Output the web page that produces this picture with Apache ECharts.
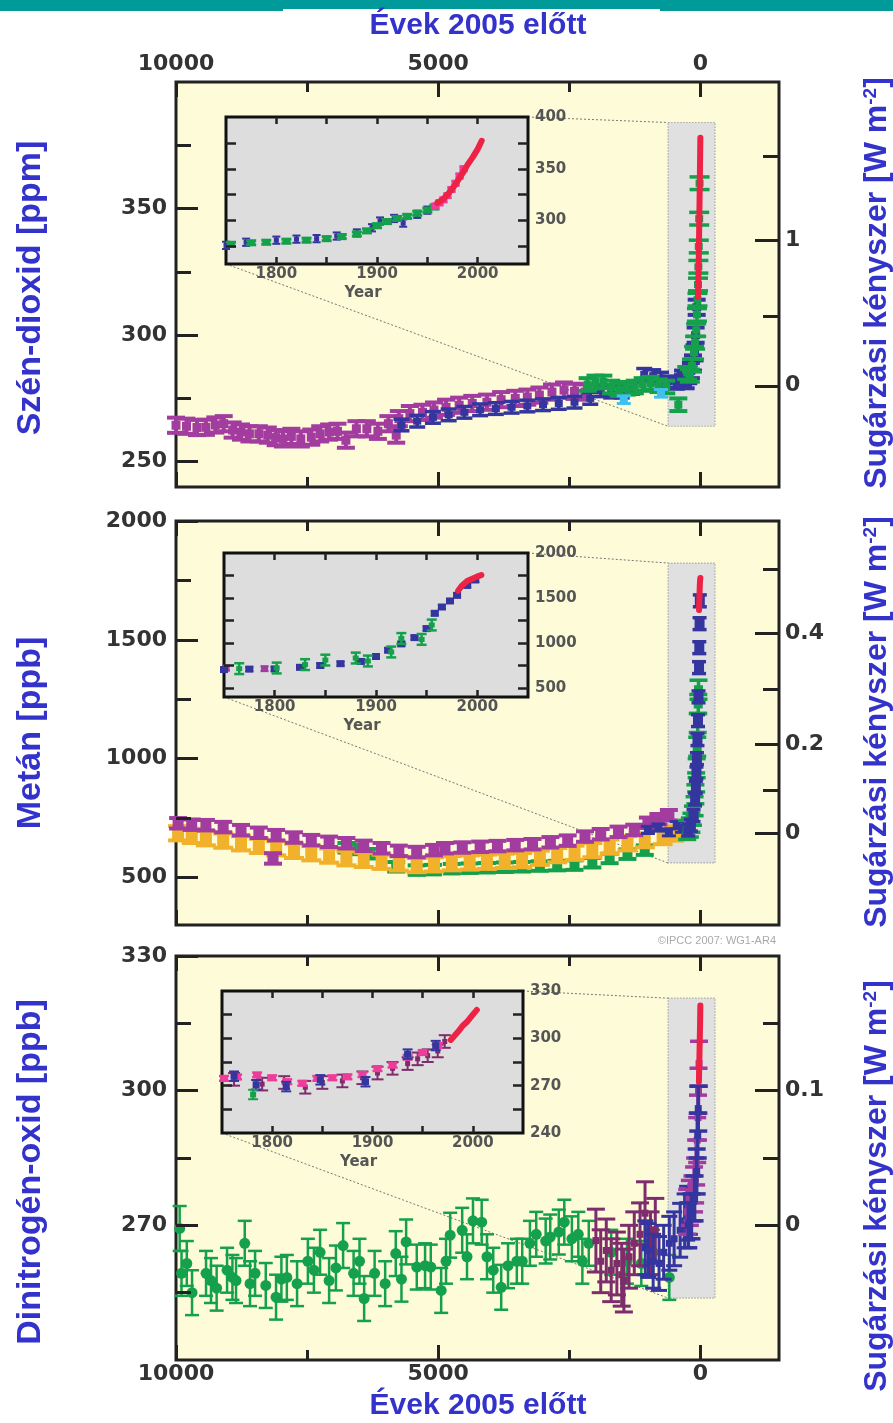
<!DOCTYPE html>
<html><head><meta charset="utf-8">
<script src="https://cdn.jsdelivr.net/npm/echarts@6/dist/echarts.min.js"></script>
<style>html,body{margin:0;padding:0;background:#fff}#c{width:893px;height:1423px}</style>
</head><body><div id="c"></div><script>
// ---------- tick values / labels ----------
const yearMajorTicks = [10000, 5000, 0];
const yearMinorTicks = [7500, 2500];
const co2LeftMajor = [250, 300, 350];
const co2LeftMinor = [275, 325, 375];
const co2ForcingPos = [280, 337.6];
const co2ForcingLabels = ['0', '1'];
const co2ForcingMinor = [307.6, 370.6];
const ch4LeftMajor = [500, 1000, 1500, 2000];
const ch4LeftMinor = [750, 1250, 1750];
const ch4ForcingPos = [686, 1060, 1526];
const ch4ForcingLabels = ['0', '0.2', '0.4'];
const ch4ForcingMinor = [867, 1291, 1799];
const n2oLeftMajor = [270, 300, 330];
const n2oLeftMinor = [255, 285, 315];
const n2oForcingPos = [270, 300];
const n2oForcingLabels = ['0', '0.1'];
const n2oForcingMinor = [285, 315];
const insetYearTicks = [1800, 1850, 1900, 1950, 2000];
const insetYearLabels = [1800, 1900, 2000];
const co2InsetTicks = [275, 300, 325, 350, 375];
const co2InsetLabels = [300, 350, 400];
const ch4InsetTicks = [500, 750, 1000, 1250, 1500, 1750];
const ch4InsetLabels = [500, 1000, 1500, 2000];
const n2oInsetTicks = [255, 270, 285, 300, 315];
const n2oInsetLabels = [240, 270, 300, 330];
// zoom boxes [yearLeft, top, yearRight, bottom]
const co2ZoomBox = [615, 384, -280, 264];
const ch4ZoomBox = [615, 1823, -280, 561];
const n2oZoomBox = [615, 320.6, -280, 253.8];

// ---------- CO2 (years before 2005, ppm) ----------
const co2MagYears = [10000, 9800, 9600, 9430, 9250, 9090, 8920, 8760, 8600, 8420, 8250, 8100, 7960, 7800, 7620, 7420, 7250, 7080, 6920, 6760, 6560, 6360, 6150, 5950, 5800, 5750, 5540, 5300, 5080, 4850, 4600, 4350, 4070, 3800, 3530, 3300, 3070, 2830, 2600, 2400, 2200];
const co2MagPpm = [264.4, 264, 263.5, 263.6, 264.5, 265, 262.5, 261.7, 261, 261, 260.5, 259.5, 259, 260, 259, 259.7, 261, 261.7, 262, 258.5, 263, 263, 262, 265, 260.5, 267, 269, 269.5, 270.4, 271.5, 272.3, 273, 273.5, 274.5, 275, 275.5, 276.3, 277.5, 278.3, 277.8, 277.5];
const co2BlueYears = [5700, 5400, 5100, 4800, 4500, 4200, 3900, 3600, 3300, 3000, 2700, 2400, 2100, 1900, 1700, 1500, 1300, 1070, 900, 750, 600, 450, 350];
const co2BluePpm = [264.5, 266, 267.5, 268.5, 269.5, 270.5, 271, 271.5, 272, 272.5, 273, 273.5, 275, 278, 277.5, 277.5, 279, 284.5, 284, 283, 281.5, 281, 282];
const co2GreenYears = [2150, 2000, 1850, 1700, 1550, 1400, 1250, 1100, 950, 800, 650, 420];
const co2GreenPpm = [280.5, 281.5, 281.5, 279.5, 278.5, 279, 279.5, 280.5, 281, 280, 279.5, 272.5];
const co2CyanYears = [1460, 750];
const co2CyanPpm = [274.5, 277];
const co2SpikeBlueYears = [330, 280, 230, 180, 140, 110, 90, 70];
const co2SpikeBluePpm = [283, 282, 284, 286, 289, 293, 300, 311];
const co2SpikeGreenYears = [250, 200, 160, 120, 100, 80, 65, 55, 45, 38, 30, 22, 15];
const co2SpikeGreenPpm = [285, 284, 288, 293, 297, 302, 308, 314, 320, 327, 335, 346, 360];
const co2RedYears = [47, 40, 30, 20, 10, 0];
const co2RedPpm = [315, 319.5, 330, 345.5, 361, 378];
// CO2 inset (year AD, ppm)
const co2InGreenYears = [1755, 1775, 1790, 1810, 1830, 1850, 1865, 1880, 1890, 1900, 1910, 1920, 1930, 1940, 1950, 1957];
const co2InGreenPpm = [277, 278.5, 279, 280, 281, 282.5, 284.5, 287, 290, 295, 299, 302, 304, 307, 310, 313];
const co2InBlueYears = [1750, 1770, 1800, 1820, 1840, 1860, 1880, 1895, 1903, 1917, 1926, 1940, 1950];
const co2InBluePpm = [276, 279, 281, 282, 282.5, 285, 288, 293, 299.5, 302, 297.5, 306, 310];
const co2InPinkYears = [1958, 1962, 1966, 1970, 1974, 1978, 1982, 1986];
const co2InPinkPpm = [314, 317, 320, 324, 330, 336, 343, 350];
const co2InRedYears = [1960, 1965, 1970, 1975, 1980, 1985, 1990, 1995, 2000, 2004];
const co2InRedPpm = [317, 320, 325, 331, 338, 345.5, 354, 361, 369, 377];

// ---------- CH4 (years before 2005, ppb) ----------
const ch4MagYears = [9960, 9700, 9430, 9100, 8760, 8420, 8150, 8090, 7750, 7420, 7080, 6750, 6420, 6080, 5750, 5410, 5080, 4870, 4540, 4200, 3870, 3530, 3200, 2860, 2530, 2200, 1900, 1560, 1260, 1000, 800, 600];
const ch4MagPpb = [728, 722, 720, 712, 699, 688, 580, 678, 668, 657, 650, 644, 633, 623, 612, 607, 615, 623, 626, 629, 632, 636, 640, 648, 655, 672, 682, 692, 700, 730, 745, 762];
const ch4OrangeYears = [9960, 9700, 9430, 9100, 8760, 8420, 8090, 7750, 7420, 7080, 6750, 6420, 6080, 5750, 5410, 5080, 4740, 4400, 4070, 3730, 3400, 3060, 2730, 2400, 2060, 1730, 1390, 1060, 720, 500, 320];
const ch4OrangePpb = [686, 675, 665, 655, 644, 633, 623, 612, 602, 592, 581, 574, 566, 559, 552, 555, 560, 563, 566, 570, 573, 583, 594, 604, 615, 630, 644, 657, 670, 685, 699];
const ch4GreenYears = [6750, 6500, 6300, 5800, 5410, 5100, 4740, 4400, 4070, 3730, 3400, 3060, 2730, 2400, 2060, 1730, 1390, 1060];
const ch4GreenPpb = [625, 618, 600, 545, 531, 533, 537, 539, 541, 543, 545, 548, 550, 552, 562, 580, 598, 615];
const ch4BlueYears = [1000, 800, 600, 450, 350];
const ch4BluePpb = [700, 710, 690, 720, 705];
const ch4SpikeGreenYears = [250, 200, 170, 140, 110, 95, 80, 70, 60, 50, 40, 35];
const ch4SpikeGreenPpb = [700, 710, 730, 760, 800, 850, 900, 960, 1050, 1150, 1230, 1290];
const ch4SpikeBlueYears = [230, 180, 130, 100, 85, 75, 65, 55, 45, 35, 25, 20, 15, 10];
const ch4SpikeBluePpb = [700, 720, 760, 830, 880, 940, 1000, 1080, 1160, 1260, 1383, 1467, 1568, 1664];
const ch4RedYears = [25, 20, 15, 10, 5, 0];
const ch4RedPpb = [1625, 1665, 1700, 1730, 1750, 1760];
// CH4 inset
const ch4InBlueYears = [1750, 1775, 1800, 1825, 1845, 1865, 1885, 1900, 1912, 1925, 1938, 1950, 1958, 1965, 1973, 1980, 1990, 1998];
const ch4InBluePpb = [705, 710, 712, 730, 750, 770, 795, 850, 920, 990, 1060, 1160, 1330, 1400, 1467, 1530, 1640, 1700];
const ch4InGreenYears = [1765, 1802, 1830, 1850, 1880, 1892, 1915, 1925, 1945, 1955];
const ch4InGreenPpb = [715, 722, 760, 810, 833, 800, 900, 1050, 1040, 1200];
const ch4InMagYears = [1752, 1790];
const ch4InMagPpb = [720, 715];
const ch4InRedYears = [1981, 1985, 1990, 1995, 2000, 2004];
const ch4InRedPpb = [1580, 1640, 1690, 1715, 1740, 1755];

// ---------- N2O (years before 2005, ppb) ----------
const n2oGreenYears = [9930, 9895, 9794, 9694, 9427, 9332, 9225, 9026, 8924, 8855, 8689, 8588, 8492, 8288, 8092, 7990, 7886, 7691, 7485, 7370, 7252, 7080, 6950, 6813, 6613, 6500, 6412, 6212, 6011, 5809, 5700, 5611, 5408, 5250, 5141, 4943, 4850, 4771, 4542, 4450, 4336, 4170, 4069, 3950, 3798, 3668, 3500, 3397, 3250, 3130, 2950, 2863, 2700, 2595, 2450, 2328, 2250, 2128, 1700, 1400, 1126, 900, 592];
const n2oGreenPpb = [269.3, 259.3, 261.5, 255, 259.3, 257.7, 256, 260, 258.4, 257.7, 266, 257, 259.3, 256.6, 254, 258, 258.4, 257, 262, 260, 264, 257.7, 260.5, 265.5, 259.3, 262, 253.7, 259.3, 257, 263.7, 258, 266.3, 260.7, 261, 260.7, 255.5, 262, 267.8, 268.9, 263, 271, 270.7, 263, 260, 256.2, 261, 262, 262, 266, 268, 266.5, 267.4, 268.5, 270.7, 267, 268, 262, 266, 264, 262, 261.5, 264, 258.4];
const n2oDarkYears = [1992, 1900, 1794, 1700, 1592, 1500, 1458, 1360, 1260, 1150, 1055, 950, 859];
const n2oDarkPpb = [266.6, 262, 264.4, 260, 261.5, 259, 257.7, 263, 266, 268, 272.7, 266, 269];
const n2oBlueYears = [1050, 992, 900, 788, 700, 592, 500, 385, 300, 252, 200];
const n2oBluePpb = [265, 264.4, 262, 261.5, 264, 266, 267, 268.9, 271, 272.7, 274];
const n2oSpikeMagYears = [250, 200, 150, 120, 100, 80, 60, 45, 35, 25];
const n2oSpikeMagPpb = [273, 275, 276, 278, 280, 284, 289, 294, 300, 306];
const n2oSpikeBlueYears = [230, 170, 110, 70, 50, 40];
const n2oSpikeBluePpb = [270, 272, 276, 282, 290, 296];
const n2oRedYears = [27, 20, 15, 10, 5, 0];
const n2oRedPpb = [302, 306, 309, 312, 315, 319];
// N2O inset
const n2oInPinkYears = [1752, 1765, 1785, 1800, 1815, 1830, 1845, 1860, 1875, 1890, 1905, 1920, 1935, 1950, 1965];
const n2oInPinkPpb = [274.6, 275.5, 276.8, 275, 272.5, 271.5, 274.6, 275, 275.6, 277, 280.8, 283, 288, 291, 295.4];
const n2oInDarkYears = [1762, 1790, 1812, 1833, 1850, 1870, 1890, 1905, 1920, 1935, 1945, 1955, 1965, 1972];
const n2oInDarkPpb = [274, 271, 272, 269, 272, 273, 275, 278, 281, 284, 287, 289, 292, 298];
const n2oInBlueYears = [1762, 1784, 1814, 1848, 1893, 1935, 1963];
const n2oInBluePpb = [276, 270.6, 269.4, 273.7, 272.5, 290, 295.4];
const n2oInGreenYears = [1781];
const n2oInGreenPpb = [264.4];
const n2oInRedYears = [1978, 1985, 1990, 1995, 2000, 2004];
const n2oInRedPpb = [299, 304, 308, 311, 315, 318];

// ---------- layout ----------
const BLUE = '#3333cc';
const AX = '#222';
const FONT = 'DejaVu Sans';
const MAIN = [{top: 82, height: 405}, {top: 521, height: 404}, {top: 956, height: 404}];
const MAIN_LEFT = 176, MAIN_W = 603;
const INSET = [
  {left: 226, top: 117, width: 302, height: 147},
  {left: 224, top: 553, width: 304, height: 144},
  {left: 222, top: 991, width: 301, height: 142}
];
const C = {mag: '#a23c9f', blue: '#35359f', green: '#15a04c', red: '#ee2244', pink: '#ee3c9a',
  orange: '#f2b12a', dark: '#7e2d6c', cyan: '#40c0f0'};

const zip = (a, b) => a.map((v, i) => [v, b[i]]);

const grids = [];
MAIN.forEach(g => grids.push({left: MAIN_LEFT, top: g.top, width: MAIN_W, height: g.height, show: true,
  backgroundColor: '#fdfbd8', borderColor: AX, borderWidth: 3, z: 0, containLabel: false, outerBoundsMode: 'none'}));
INSET.forEach(g => grids.push({left: g.left, top: g.top, width: g.width, height: g.height, show: true,
  backgroundColor: '#dddddd', borderColor: '#111', borderWidth: 3, z: 5, containLabel: false, outerBoundsMode: 'none'}));

function axis(o) {
  const a = {
    type: 'value', gridIndex: o.grid, position: o.pos, min: o.min, max: o.max, inverse: !!o.inverse,
    z: o.z, axisLine: {show: false, onZero: false}, splitLine: {show: false},
    axisTick: {show: true, inside: true, length: o.len, customValues: o.ticks, lineStyle: {color: AX, width: o.lw}},
    axisLabel: o.labels ? {show: true, customValues: o.labels, fontFamily: FONT, fontWeight: 'bold',
      fontSize: o.fs, color: o.color, margin: o.margin, formatter: o.fmt || (v => String(v)),
      showMinLabel: true, showMaxLabel: true} : {show: false}
  };
  if (o.name) {
    a.name = o.name; a.nameLocation = 'middle'; a.nameGap = o.nameGap;
    a.nameTextStyle = {fontFamily: FONT, fontWeight: 'bold', fontSize: o.fs, color: o.color, padding: [0, 28, 0, 0]};
  }
  return a;
}
function mapFmt(pos, labels) {
  return v => { const i = pos.findIndex(p => Math.abs(p - v) < 1e-6); return i >= 0 ? labels[i] : ''; };
}

const xAxes = [], yAxes = [];
const mainY = [
  {min: 240, max: 400, lMaj: co2LeftMajor, lMin: co2LeftMinor, rPos: co2ForcingPos, rLab: co2ForcingLabels, rMin: co2ForcingMinor},
  {min: 300, max: 2000, lMaj: ch4LeftMajor, lMin: ch4LeftMinor, rPos: ch4ForcingPos, rLab: ch4ForcingLabels, rMin: ch4ForcingMinor},
  {min: 240, max: 330, lMaj: n2oLeftMajor, lMin: n2oLeftMinor, rPos: n2oForcingPos, rLab: n2oForcingLabels, rMin: n2oForcingMinor}
];
for (let g = 0; g < 3; g++) {
  const xb = {grid: g, min: -1500, max: 10000, inverse: true, z: 4, lw: 3, fs: 22, color: '#333'};
  xAxes.push(axis(Object.assign({}, xb, {pos: 'bottom', ticks: yearMajorTicks, len: 15, labels: g === 2 ? yearMajorTicks : null, margin: 3})));
  xAxes.push(axis(Object.assign({}, xb, {pos: 'bottom', ticks: yearMinorTicks, len: 10})));
  xAxes.push(axis(Object.assign({}, xb, {pos: 'top', ticks: yearMajorTicks, len: 15, labels: g === 0 ? yearMajorTicks : null, margin: 7})));
  xAxes.push(axis(Object.assign({}, xb, {pos: 'top', ticks: yearMinorTicks, len: 10})));
  const m = mainY[g];
  const yb = {grid: g, min: m.min, max: m.max, z: 4, lw: 3, fs: 22, color: '#333'};
  yAxes.push(axis(Object.assign({}, yb, {pos: 'left', ticks: m.lMaj, len: 22, labels: m.lMaj, margin: 9})));
  yAxes.push(axis(Object.assign({}, yb, {pos: 'left', ticks: m.lMin, len: 15})));
  yAxes.push(axis(Object.assign({}, yb, {pos: 'right', ticks: m.rPos, len: 24, labels: m.rPos, margin: 6, fmt: mapFmt(m.rPos, m.rLab)})));
  yAxes.push(axis(Object.assign({}, yb, {pos: 'right', ticks: m.rMin, len: 16})));
}
const insetY = [
  {min: 258, max: 400, ticks: co2InsetTicks, labels: co2InsetLabels},
  {min: 400, max: 2000, ticks: ch4InsetTicks, labels: ch4InsetLabels},
  {min: 240, max: 330, ticks: n2oInsetTicks, labels: n2oInsetLabels}
];
for (let k = 0; k < 3; k++) {
  const g = 3 + k;
  const xb = {grid: g, min: 1750, max: 2050, z: 7, lw: 2.5, fs: 15, color: '#555'};
  xAxes.push(axis(Object.assign({}, xb, {pos: 'bottom', ticks: insetYearTicks, len: 7, labels: insetYearLabels, margin: 3, name: 'Year', nameGap: 22})));
  xAxes.push(axis(Object.assign({}, xb, {pos: 'top', ticks: insetYearTicks, len: 7})));
  const iy = insetY[k];
  const yb = {grid: g, min: iy.min, max: iy.max, z: 7, lw: 2.5, fs: 15, color: '#555'};
  yAxes.push(axis(Object.assign({}, yb, {pos: 'right', ticks: iy.ticks, len: 10, labels: iy.labels, margin: 7})));
  yAxes.push(axis(Object.assign({}, yb, {pos: 'left', ticks: iy.ticks, len: 10})));
}

// ---------- series helpers ----------
function errSeries(xi, yi, years, vals, o) {
  return {
    type: 'custom', xAxisIndex: xi, yAxisIndex: yi, z: o.z || 2, silent: true,
    data: zip(years, vals),
    renderItem(params, api) {
      const xv = api.value(0), yv = api.value(1);
      const c = api.coord([xv, yv]);
      const t = api.coord([xv, yv + o.err])[1];
      const b = api.coord([xv, yv - o.err])[1];
      const st = {stroke: o.color, lineWidth: o.lw};
      const ch = [
        {type: 'line', shape: {x1: c[0], y1: t, x2: c[0], y2: b}, style: st},
        {type: 'line', shape: {x1: c[0] - o.cap, y1: t, x2: c[0] + o.cap, y2: t}, style: st},
        {type: 'line', shape: {x1: c[0] - o.cap, y1: b, x2: c[0] + o.cap, y2: b}, style: st}
      ];
      if (o.dot) ch.push({type: 'circle', shape: {cx: c[0], cy: c[1], r: o.dot}, style: {fill: o.color}});
      if (o.rect) ch.push({type: 'rect', shape: {x: c[0] - o.rect[0] / 2, y: c[1] - o.rect[1] / 2, width: o.rect[0], height: o.rect[1]}, style: {fill: o.color}});
      return {type: 'group', children: ch};
    }
  };
}
function lineSeries(xi, yi, years, vals, color, width, z) {
  return {type: 'line', xAxisIndex: xi, yAxisIndex: yi, data: zip(years, vals), symbol: 'none', silent: true,
    z: z || 3, lineStyle: {color, width, cap: 'round'}};
}
function boxSeries(xi, yi, box, inset) {
  return {
    type: 'custom', xAxisIndex: xi, yAxisIndex: yi, z: 1, silent: true, clip: false,
    data: [box],
    renderItem(params, api) {
      const p1 = api.coord([api.value(0), api.value(1)]);
      const p2 = api.coord([api.value(2), api.value(3)]);
      const x = Math.min(p1[0], p2[0]), y = Math.min(p1[1], p2[1]);
      const w = Math.abs(p2[0] - p1[0]), h = Math.abs(p2[1] - p1[1]);
      const dash = {stroke: '#777', lineWidth: 1, lineDash: [2, 2]};
      return {type: 'group', children: [
        {type: 'rect', shape: {x, y, width: w, height: h}, style: {fill: '#e0e0e0', stroke: '#a8a8a8', lineWidth: 1.2, lineDash: [1.5, 1.5]}},
        {type: 'line', shape: {x1: inset.left + inset.width, y1: inset.top, x2: x, y2: y}, style: dash},
        {type: 'line', shape: {x1: inset.left, y1: inset.top + inset.height, x2: x, y2: y + h}, style: dash}
      ]};
    }
  };
}

const series = [
  // panel 1 CO2
  boxSeries(0, 0, co2ZoomBox, INSET[0]),
  errSeries(0, 0, co2MagYears, co2MagPpm, {err: 3, cap: 9, lw: 4, rect: [9, 9], color: C.mag}),
  errSeries(0, 0, co2BlueYears, co2BluePpm, {err: 2.3, cap: 8, lw: 3.5, rect: [8, 7], color: C.blue}),
  errSeries(0, 0, co2GreenYears, co2GreenPpm, {err: 2.5, cap: 9, lw: 4, rect: [8, 8], color: C.green}),
  errSeries(0, 0, co2CyanYears, co2CyanPpm, {err: 1.5, cap: 7, lw: 3, rect: [8, 6], color: C.cyan}),
  errSeries(0, 0, co2SpikeBlueYears, co2SpikeBluePpm, {err: 3, cap: 9, lw: 4, rect: [9, 8], color: C.blue}),
  errSeries(0, 0, co2SpikeGreenYears, co2SpikeGreenPpm, {err: 2.5, cap: 10, lw: 3.5, rect: [8, 7], color: C.green}),
  lineSeries(0, 0, co2RedYears, co2RedPpm, C.red, 6),
  // inset 1
  errSeries(12, 12, co2InBlueYears, co2InBluePpm, {err: 3.5, cap: 4, lw: 2, rect: [5, 5], color: C.blue, z: 6}),
  errSeries(12, 12, co2InGreenYears, co2InGreenPpm, {err: 2, cap: 5, lw: 3, rect: [8, 5], color: C.green, z: 6}),
  errSeries(12, 12, co2InPinkYears, co2InPinkPpm, {err: 2, cap: 4, lw: 2.5, rect: [8, 7], color: C.pink, z: 6}),
  lineSeries(12, 12, co2InRedYears, co2InRedPpm, C.red, 6, 6),
  // panel 2 CH4
  boxSeries(4, 4, ch4ZoomBox, INSET[1]),
  errSeries(4, 4, ch4GreenYears, ch4GreenPpb, {err: 20, cap: 9, lw: 4, rect: [10, 9], color: C.green}),
  errSeries(4, 4, ch4OrangeYears, ch4OrangePpb, {err: 30, cap: 10, lw: 4, rect: [12, 14], color: C.orange}),
  errSeries(4, 4, ch4MagYears, ch4MagPpb, {err: 22, cap: 9, lw: 4, rect: [11, 10], color: C.mag}),
  errSeries(4, 4, ch4BlueYears, ch4BluePpb, {err: 15, cap: 7, lw: 3, rect: [8, 7], color: C.blue}),
  errSeries(4, 4, ch4SpikeGreenYears, ch4SpikeGreenPpb, {err: 40, cap: 9, lw: 3.5, rect: [9, 9], color: C.green}),
  errSeries(4, 4, ch4SpikeBlueYears, ch4SpikeBluePpb, {err: 25, cap: 7, lw: 3.5, rect: [10, 10], color: C.blue}),
  lineSeries(4, 4, ch4RedYears, ch4RedPpb, C.red, 6),
  // inset 2
  errSeries(14, 14, ch4InMagYears, ch4InMagPpb, {err: 25, cap: 4, lw: 2.5, rect: [7, 5], color: C.mag, z: 6}),
  errSeries(14, 14, ch4InBlueYears, ch4InBluePpb, {err: 25, cap: 4, lw: 2.5, rect: [8, 6], color: C.blue, z: 6}),
  errSeries(14, 14, ch4InGreenYears, ch4InGreenPpb, {err: 60, cap: 5, lw: 2.5, rect: [6, 5], color: C.green, z: 6}),
  lineSeries(14, 14, ch4InRedYears, ch4InRedPpb, C.red, 6, 6),
  // panel 3 N2O
  boxSeries(8, 8, n2oZoomBox, INSET[2]),
  errSeries(8, 8, n2oGreenYears, n2oGreenPpb, {err: 5, cap: 7, lw: 2.5, dot: 5.5, color: C.green}),
  errSeries(8, 8, n2oDarkYears, n2oDarkPpb, {err: 7, cap: 9, lw: 3, rect: [7, 7], color: C.dark}),
  errSeries(8, 8, n2oBlueYears, n2oBluePpb, {err: 6, cap: 8, lw: 3, rect: [7, 7], color: C.blue}),
  errSeries(8, 8, n2oSpikeMagYears, n2oSpikeMagPpb, {err: 5, cap: 9, lw: 3.5, rect: [7, 7], color: C.mag}),
  errSeries(8, 8, n2oSpikeBlueYears, n2oSpikeBluePpb, {err: 5, cap: 9, lw: 3.5, rect: [7, 7], color: C.blue}),
  lineSeries(8, 8, n2oRedYears, n2oRedPpb, C.red, 6),
  // inset 3
  errSeries(16, 16, n2oInDarkYears, n2oInDarkPpb, {err: 4, cap: 6, lw: 2, rect: [5, 5], color: C.dark, z: 6}),
  errSeries(16, 16, n2oInPinkYears, n2oInPinkPpb, {err: 1.5, cap: 5, lw: 2.5, rect: [8, 5], color: C.pink, z: 6}),
  errSeries(16, 16, n2oInBlueYears, n2oInBluePpb, {err: 3, cap: 5, lw: 2, rect: [7, 7], color: C.blue, z: 6}),
  errSeries(16, 16, n2oInGreenYears, n2oInGreenPpb, {err: 3, cap: 5, lw: 2, rect: [6, 6], color: C.green, z: 6}),
  lineSeries(16, 16, n2oInRedYears, n2oInRedPpb, C.red, 6, 6)
];

const titleFont = 'bold 30px "Liberation Sans", Arial, sans-serif';
const leftFont = 'bold 34px "Liberation Sans", Arial, sans-serif';
function txt(x, y, text, font, rot) {
  return {type: 'text', x, y, rotation: rot || 0, z: 20, silent: true,
    style: {text, font, fill: BLUE, align: 'center', verticalAlign: 'middle', textAlign: 'center', textVerticalAlign: 'middle'}};
}
function rightTitle(y) {
  return {type: 'text', x: 877, y, rotation: Math.PI / 2, z: 20, silent: true,
    style: {text: 'Sugárzási kényszer [W m{sup|-2}]', font: 'bold 32px "Liberation Sans", Arial, sans-serif', fill: BLUE,
      align: 'center', verticalAlign: 'middle', textAlign: 'center', textVerticalAlign: 'middle',
      rich: {sup: {fontSize: 19, fontWeight: 'bold', fontFamily: 'Liberation Sans', fill: BLUE, verticalAlign: 'top'}}}};
}
const graphic = [
  {type: 'rect', shape: {x: 0, y: 0, width: 893, height: 9}, style: {fill: '#009a9a'}, z: 20, silent: true},
  {type: 'rect', shape: {x: 0, y: 8, width: 283, height: 3}, style: {fill: '#009a9a'}, z: 20, silent: true},
  {type: 'rect', shape: {x: 660, y: 8, width: 233, height: 3}, style: {fill: '#009a9a'}, z: 20, silent: true},
  txt(478, 26, 'Évek 2005 előtt', titleFont),
  txt(478, 1406, 'Évek 2005 előtt', titleFont),
  txt(31, 288, 'Szén-dioxid [ppm]', leftFont, Math.PI / 2),
  txt(31, 733, 'Metán [ppb]', leftFont, Math.PI / 2),
  txt(31, 1172, 'Dinitrogén-oxid [ppb]', leftFont, Math.PI / 2),
  rightTitle(283), rightTitle(722), rightTitle(1186),
  {type: 'text', x: 776, y: 941, z: 20, silent: true,
    style: {text: '©IPCC 2007: WG1-AR4', font: '11px "Liberation Sans", Arial, sans-serif', fill: '#aaaaaa',
      align: 'right', verticalAlign: 'middle', textAlign: 'right', textVerticalAlign: 'middle'}}
];

const chart = echarts.init(document.getElementById('c'), null, {renderer: 'canvas'});
chart.setOption({animation: false, backgroundColor: '#ffffff', grid: grids, xAxis: xAxes, yAxis: yAxes, series, graphic});
</script></body></html>
